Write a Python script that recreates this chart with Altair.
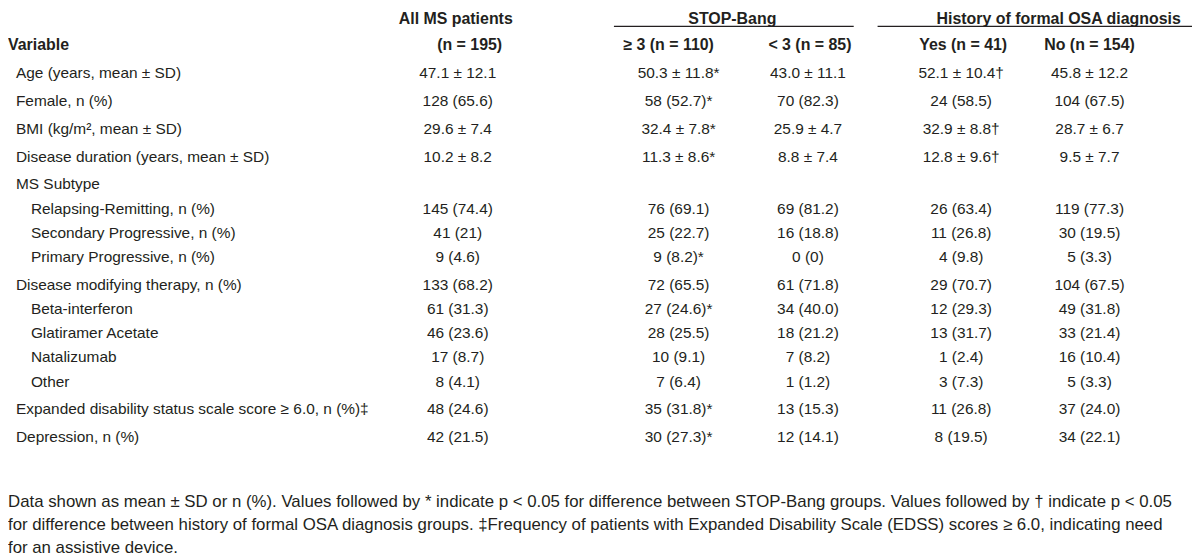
import altair as alt
import pandas as pd

# ---------------- data ----------------
row_labels = [
    "Age (years, mean ± SD)",
    "Female, n (%)",
    "BMI (kg/m², mean ± SD)",
    "Disease duration (years, mean ± SD)",
    "MS Subtype",
    "Relapsing-Remitting, n (%)",
    "Secondary Progressive, n (%)",
    "Primary Progressive, n (%)",
    "Disease modifying therapy, n (%)",
    "Beta-interferon",
    "Glatiramer Acetate",
    "Natalizumab",
    "Other",
    "Expanded disability status scale score ≥ 6.0, n (%)‡",
    "Depression, n (%)",
]
row_levels = [1, 1, 1, 1, 1, 2, 2, 2, 1, 2, 2, 2, 2, 1, 1]

all_ms = ["47.1 ± 12.1", "128 (65.6)", "29.6 ± 7.4", "10.2 ± 8.2", "",
          "145 (74.4)", "41 (21)", "9 (4.6)", "133 (68.2)", "61 (31.3)",
          "46 (23.6)", "17 (8.7)", "8 (4.1)", "48 (24.6)", "42 (21.5)"]
stopbang_ge3 = ["50.3 ± 11.8*", "58 (52.7)*", "32.4 ± 7.8*", "11.3 ± 8.6*", "",
                "76 (69.1)", "25 (22.7)", "9 (8.2)*", "72 (65.5)", "27 (24.6)*",
                "28 (25.5)", "10 (9.1)", "7 (6.4)", "35 (31.8)*", "30 (27.3)*"]
stopbang_lt3 = ["43.0 ± 11.1", "70 (82.3)", "25.9 ± 4.7", "8.8 ± 7.4", "",
                "69 (81.2)", "16 (18.8)", "0 (0)", "61 (71.8)", "34 (40.0)",
                "18 (21.2)", "7 (8.2)", "1 (1.2)", "13 (15.3)", "12 (14.1)"]
osa_yes = ["52.1 ± 10.4†", "24 (58.5)", "32.9 ± 8.8†", "12.8 ± 9.6†", "",
           "26 (63.4)", "11 (26.8)", "4 (9.8)", "29 (70.7)", "12 (29.3)",
           "13 (31.7)", "1 (2.4)", "3 (7.3)", "11 (26.8)", "8 (19.5)"]
osa_no = ["45.8 ± 12.2", "104 (67.5)", "28.7 ± 6.7", "9.5 ± 7.7", "",
          "119 (77.3)", "30 (19.5)", "5 (3.3)", "104 (67.5)", "49 (31.8)",
          "33 (21.4)", "16 (10.4)", "5 (3.3)", "37 (24.0)", "34 (22.1)"]

group_headers = ["STOP-Bang", "History of formal OSA diagnosis"]
col_header_top = ["All MS patients"]
col_headers = ["(n = 195)", "≥ 3 (n = 110)", "< 3 (n = 85)", "Yes (n = 41)", "No (n = 154)"]
first_header = "Variable"

footnote_lines = [
    "Data shown as mean ± SD or n (%). Values followed by * indicate p < 0.05 for difference between STOP-Bang groups. Values followed by † indicate p < 0.05",
    "for difference between history of formal OSA diagnosis groups. ‡Frequency of patients with Expanded Disability Scale (EDSS) scores ≥ 6.0, indicating need",
    "for an assistive device.",
]

# ---------------- layout ----------------
W, H = 1190, 548
FONT = "Liberation Sans"
FS_BODY, FS_HEAD, FS_FOOT = 15.5, 16, 16.9
COLOR = "#231f20"

col_x = [452, 674, 804, 958, 1087]          # value column centres
head_x = [464, 664, 806, 960, 1087]         # second header line centres
top_head_x = 450
group_x = [728, 1056]
group_rule = [(609, 850), (874, 1192)]
label_x = {0: 0, 1: 8, 2: 23}
y_head1, y_rule, y_head2 = 10, 17, 36
gap_main, gap_sub = 28, 24.3
foot_y0, foot_gap = 495, 23

# row y positions
row_y = []
y = y_head2
for lvl in row_levels:
    y += gap_sub if lvl == 2 else gap_main
    row_y.append(y)

layers = {k: [] for k in ["body_l", "head_l", "body_c", "head_c", "foot"]}

layers["head_l"].append({"x": label_x[0], "y": y_head2, "t": first_header})
for lab, lvl, yy in zip(row_labels, row_levels, row_y):
    layers["body_l"].append({"x": label_x[lvl], "y": yy, "t": lab})

for i, ln in enumerate(footnote_lines):
    layers["foot"].append({"x": 0, "y": foot_y0 + i * foot_gap, "t": ln})

for series, cx in zip([all_ms, stopbang_ge3, stopbang_lt3, osa_yes, osa_no], col_x):
    for v, yy in zip(series, row_y):
        if v:
            layers["body_c"].append({"x": cx, "y": yy, "t": v})

layers["head_c"].append({"x": top_head_x, "y": y_head1, "t": col_header_top[0]})
for h, hx in zip(col_headers, head_x):
    layers["head_c"].append({"x": hx, "y": y_head2, "t": h})
for g, gx in zip(group_headers, group_x):
    layers["head_c"].append({"x": gx, "y": y_head1, "t": g})

rules = pd.DataFrame([{"x": a, "x2": b, "y": y_rule} for a, b in group_rule])

xs = alt.Scale(domain=[0, W], nice=False, zero=False)
ys = alt.Scale(domain=[0, H], nice=False, zero=False, reverse=True)


def text_layer(rows, align, weight, size):
    return alt.Chart(pd.DataFrame(rows)).mark_text(
        align=align, baseline="middle", font=FONT, fontSize=size,
        fontWeight=weight, color=COLOR
    ).encode(
        x=alt.X("x:Q", scale=xs, axis=None),
        y=alt.Y("y:Q", scale=ys, axis=None),
        text="t:N",
    )


rule_layer = alt.Chart(rules).mark_rule(color=COLOR, strokeWidth=1.3).encode(
    x=alt.X("x:Q", scale=xs, axis=None),
    x2="x2:Q",
    y=alt.Y("y:Q", scale=ys, axis=None),
)

chart = alt.layer(
    rule_layer,
    text_layer(layers["body_l"], "left", "normal", FS_BODY),
    text_layer(layers["head_l"], "left", "bold", FS_HEAD),
    text_layer(layers["body_c"], "center", "normal", FS_BODY),
    text_layer(layers["head_c"], "center", "bold", FS_HEAD),
    text_layer(layers["foot"], "left", "normal", FS_FOOT),
).properties(
    width=W, height=H, padding=0, autosize=alt.AutoSizeParams(type="none"),
    background="white",
).configure_view(stroke=None)

chart.save("out.html", embed_options={"renderer": "svg", "actions": False})
